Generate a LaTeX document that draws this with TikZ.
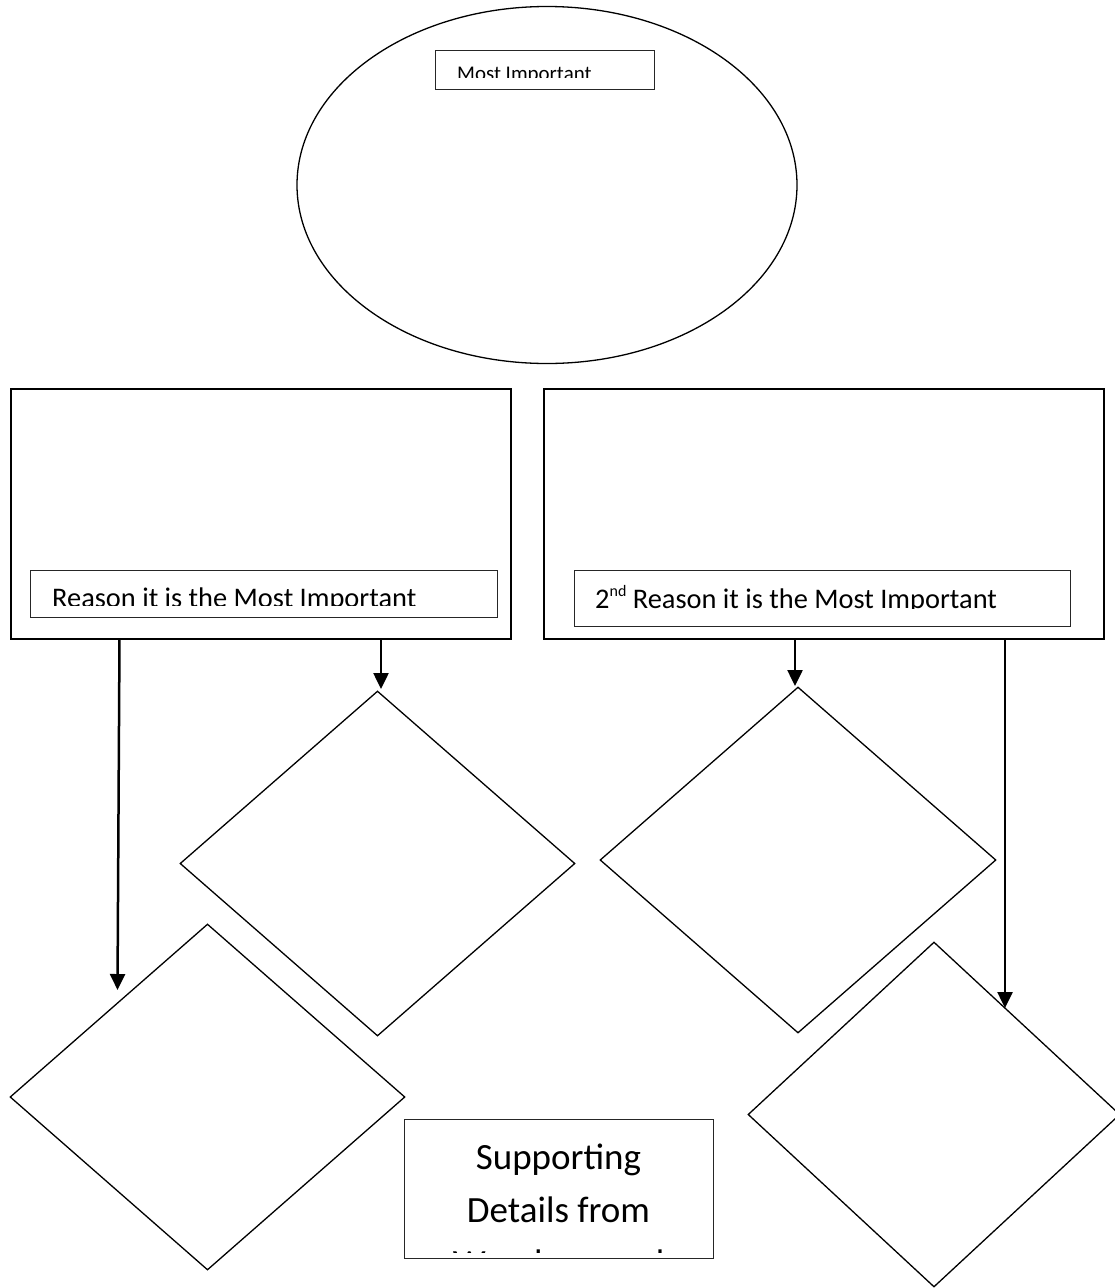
\documentclass[tikz,border=0pt]{standalone}
\usepackage{fontspec}
\setmainfont{Carlito}
\usetikzlibrary{shapes.geometric,arrows.meta}
\begin{document}
\begin{tikzpicture}[x=1pt,y=-1pt,
  shapeline/.style={draw=black,line width=1.3pt},
  bigbox/.style={draw=black,line width=1.8pt,rectangle,inner sep=0pt,anchor=north west},
  labelbox/.style={draw=black!85,line width=1.2pt,rectangle,inner sep=0pt,anchor=north west},
  detail/.style={diamond,shapeline,inner sep=0pt},
  link/.style={draw=black,line width=2.5pt,-{Triangle[length=16pt,width=15pt]}},
  cut/.style={inner sep=0pt,text=black},
]
\useasboundingbox (0,0) rectangle (1114,1288);

% central idea
\node[ellipse,shapeline,minimum width=500pt,minimum height=357pt,inner sep=0pt] (main) at (547,185) {};
\node[labelbox,minimum width=219pt,minimum height=39pt] (mbox) at (435,50) {};
\begin{scope}
  \clip (436,51) rectangle (653,77.5);
  \node[cut,anchor=base west,font=\fontsize{20.9}{25}\selectfont] (mtxt) at (457,80.5) {Most Important};
\end{scope}

% reason boxes
\node[bigbox,minimum width=500pt,minimum height=250pt] (lbox) at (10,388) {};
\node[labelbox,minimum width=467pt,minimum height=47pt] (lrsn) at (30,570) {};
\begin{scope}
  \clip (31,571) rectangle (496,605);
  \node[cut,anchor=base west,font=\fontsize{28.4}{34}\selectfont] (ltxt) at (52,607) {Reason it is the Most Important};
\end{scope}

\node[bigbox,minimum width=560pt,minimum height=250pt] (rbox) at (543,388) {};
\node[labelbox,minimum width=496pt,minimum height=56pt] (rrsn) at (574,570) {};
\begin{scope}
  \clip (575,571) rectangle (1069,608.5);
  \node[cut,anchor=base west,font=\fontsize{28.4}{34}\selectfont] (rtxt) at (595,608)
    {2\raisebox{0.42em}{\fontsize{16}{16}\selectfont nd} Reason it is the Most Important};
\end{scope}

% detail diamonds
\node[detail,minimum width=395pt,minimum height=345pt] (d1) at (377.5,863.5) {};
\node[detail,minimum width=395pt,minimum height=346pt] (d2) at (207.5,1097) {};
\node[detail,minimum width=396pt,minimum height=346pt] (d3) at (798,860) {};
\node[detail,minimum width=372pt,minimum height=345pt] (d4) at (934,1114.5) {};

% supporting details label
\node[labelbox,minimum width=309pt,minimum height=139pt] (sbox) at (404,1119) {};
\begin{scope}
  \clip (405,1120) rectangle (712,1252.5);
  \node[cut,anchor=base,font=\fontsize{37}{44}\selectfont] (s1) at (558.5,1169) {Supporting};
  \node[cut,anchor=base,font=\fontsize{37}{44}\selectfont] (s2) at (558.5,1222) {Details from};
  \node[cut,anchor=base,font=\fontsize{37}{44}\selectfont] (s3) at (558.5,1275) {Wonder novel};
\end{scope}

% connectors
\coordinate (a1s) at (119.5,638);  \coordinate (a1e) at (117.5,990);
\coordinate (a2s) at (381,638);    \coordinate (a2e) at (381,689);
\coordinate (a3s) at (795,638);    \coordinate (a3e) at (795,686);
\coordinate (a4s) at (1005,638);   \coordinate (a4e) at (1005,1008);
\draw[link] (a1s) -- (a1e);
\draw[link] (a2s) -- (a2e);
\draw[link] (a3s) -- (a3e);
\draw[link] (a4s) -- (a4e);
\end{tikzpicture}
\end{document}
